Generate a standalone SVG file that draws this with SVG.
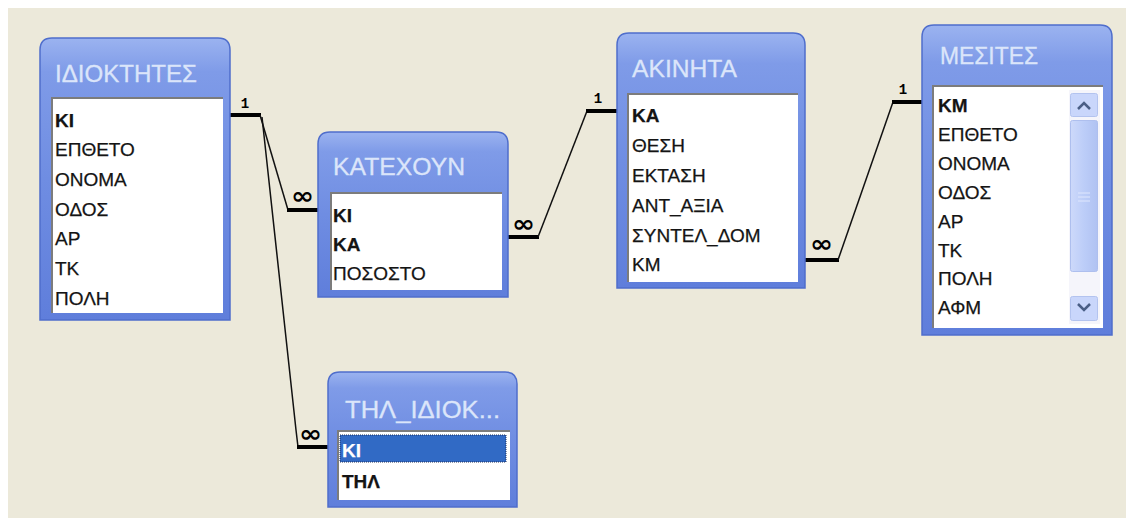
<svg xmlns="http://www.w3.org/2000/svg" width="1133" height="526" viewBox="0 0 1133 526">
  <defs>
    <linearGradient id="hdr" x1="0" y1="0" x2="0" y2="1">
      <stop offset="0" stop-color="#9bb3f0"/>
      <stop offset="0.12" stop-color="#7f9be8"/>
      <stop offset="0.5" stop-color="#6f8de2"/>
      <stop offset="1" stop-color="#5f7edb"/>
    </linearGradient>
    <linearGradient id="thumb" x1="0" y1="0" x2="1" y2="0">
      <stop offset="0" stop-color="#cdd9fa"/>
      <stop offset="0.5" stop-color="#bccdf8"/>
      <stop offset="1" stop-color="#b0c2f2"/>
    </linearGradient>
    <style>
      .frame { fill: url(#hdr); stroke: #4f6ecc; stroke-width: 1.5; }
      .well { fill: #ffffff; }
      .inset { fill: none; stroke: #7c7c7c; stroke-width: 2; }
      .title { font-family: "Liberation Sans", Arial, sans-serif; font-size: 24px; fill: #dbe5fa; stroke: #dbe5fa; stroke-width: 0.3; }
      .fld { font-family: "Liberation Sans", Arial, sans-serif; font-size: 19px; fill: #141414; stroke: #141414; stroke-width: 0.25; }
      .key { font-weight: bold; }
      .sel { fill: #ffffff; stroke: #ffffff; }
      .stub { stroke: #000; stroke-width: 4; fill: none; }
      .rel { stroke: #111; stroke-width: 1.5; fill: none; }
      .one { font-family: "Liberation Mono", "Courier New", monospace; font-size: 14px; font-weight: bold; fill: #000; text-anchor: middle; }
      .many { font-family: "DejaVu Sans", sans-serif; font-size: 24px; font-weight: bold; fill: #000; }
      .sbtn { fill: #c9d6fb; stroke: #b3c3ef; stroke-width: 1; }
      .chev { fill: none; stroke: #4a5e86; stroke-width: 2.5; }
    </style>
  </defs>

  <!-- window canvas -->
  <rect x="0" y="0" width="1133" height="526" fill="#ffffff"/>
  <rect x="8" y="8" width="1118" height="510" fill="#ece9da"/>

  <!-- relationship lines -->
  <g id="connectors">
    <!-- ΙΔΙΟΚΤΗΤΕΣ.ΚΙ 1 — ∞ ΚΑΤΕΧΟΥΝ.ΚΙ -->
    <line class="stub" x1="230" y1="115" x2="261" y2="115"/>
    <polyline class="rel" points="260,115 288,210"/>
    <line class="stub" x1="287" y1="210" x2="318" y2="210"/>
    <text class="one" x="245" y="108">1</text>
    <text class="many" x="291" y="204" textLength="23" lengthAdjust="spacingAndGlyphs">∞</text>

    <!-- ΙΔΙΟΚΤΗΤΕΣ.ΚΙ 1 — ∞ ΤΗΛ_ΙΔΙΟΚ.ΚΙ -->
    <polyline class="rel" points="262,117 296,430 298,447"/>
    <line class="stub" x1="297" y1="447" x2="328" y2="447"/>
    <text class="many" x="299" y="442" textLength="23" lengthAdjust="spacingAndGlyphs">∞</text>

    <!-- ΑΚΙΝΗΤΑ.ΚΑ 1 — ∞ ΚΑΤΕΧΟΥΝ.ΚΑ -->
    <line class="stub" x1="508" y1="237" x2="539" y2="237"/>
    <polyline class="rel" points="538,237 587,111"/>
    <line class="stub" x1="586" y1="111" x2="617" y2="111"/>
    <text class="one" x="598" y="103">1</text>
    <text class="many" x="512" y="232" textLength="23" lengthAdjust="spacingAndGlyphs">∞</text>

    <!-- ΜΕΣΙΤΕΣ.ΚΜ 1 — ∞ ΑΚΙΝΗΤΑ.ΚΜ -->
    <line class="stub" x1="805" y1="260" x2="839" y2="260"/>
    <polyline class="rel" points="838,260 893,102"/>
    <line class="stub" x1="892" y1="102" x2="922" y2="102"/>
    <text class="one" x="903" y="94">1</text>
    <text class="many" x="810" y="252" textLength="23" lengthAdjust="spacingAndGlyphs">∞</text>
  </g>

  <!-- table ΙΔΙΟΚΤΗΤΕΣ -->
  <g id="t-idioktites">
    <path class="frame" d="M40,320 V50 Q40,38 52,38 H218 Q230,38 230,50 V320 Z"/>
    <rect class="well" x="51" y="97" width="172" height="216"/>
    <polyline class="inset" points="52,313 52,98 223,98"/>
    <text class="title" x="55" y="82" textLength="142" lengthAdjust="spacingAndGlyphs">ΙΔΙΟΚΤΗΤΕΣ</text>
    <text class="fld key" x="55" y="127">ΚΙ</text>
    <text class="fld" x="55" y="156">ΕΠΘΕΤΟ</text>
    <text class="fld" x="55" y="186">ΟΝΟΜΑ</text>
    <text class="fld" x="55" y="216">ΟΔΟΣ</text>
    <text class="fld" x="55" y="245">ΑΡ</text>
    <text class="fld" x="55" y="275">ΤΚ</text>
    <text class="fld" x="55" y="305">ΠΟΛΗ</text>
  </g>

  <!-- table ΚΑΤΕΧΟΥΝ -->
  <g id="t-katexoun">
    <path class="frame" d="M318,297 V144 Q318,132 330,132 H496 Q508,132 508,144 V297 Z"/>
    <rect class="well" x="330" y="192" width="172" height="98"/>
    <polyline class="inset" points="331,290 331,193 502,193"/>
    <text class="title" x="333" y="175" textLength="132" lengthAdjust="spacingAndGlyphs">ΚΑΤΕΧΟΥΝ</text>
    <text class="fld key" x="333" y="222">ΚΙ</text>
    <text class="fld key" x="333" y="251">ΚΑ</text>
    <text class="fld" x="333" y="280">ΠΟΣΟΣΤΟ</text>
  </g>

  <!-- table ΑΚΙΝΗΤΑ -->
  <g id="t-akinita">
    <path class="frame" d="M617,288 V45 Q617,33 629,33 H793 Q805,33 805,45 V288 Z"/>
    <rect class="well" x="627" y="93" width="171" height="189"/>
    <polyline class="inset" points="628,282 628,94 798,94"/>
    <text class="title" x="632" y="77" textLength="105" lengthAdjust="spacingAndGlyphs">ΑΚΙΝΗΤΑ</text>
    <text class="fld key" x="632" y="122">ΚΑ</text>
    <text class="fld" x="632" y="152">ΘΕΣΗ</text>
    <text class="fld" x="632" y="182">ΕΚΤΑΣΗ</text>
    <text class="fld" x="632" y="212">ΑΝΤ_ΑΞΙΑ</text>
    <text class="fld" x="632" y="242">ΣΥΝΤΕΛ_ΔΟΜ</text>
    <text class="fld" x="632" y="271">ΚΜ</text>
  </g>

  <!-- table ΜΕΣΙΤΕΣ (with vertical scrollbar) -->
  <g id="t-mesites">
    <path class="frame" d="M922,335 V37 Q922,25 934,25 H1100 Q1112,25 1112,37 V335 Z"/>
    <rect class="well" x="932" y="85" width="171" height="243"/>
    <polyline class="inset" points="933,328 933,86 1103,86"/>
    <text class="title" x="940" y="64" textLength="98" lengthAdjust="spacingAndGlyphs">ΜΕΣΙΤΕΣ</text>
    <text class="fld key" x="938" y="112">ΚΜ</text>
    <text class="fld" x="938" y="141">ΕΠΘΕΤΟ</text>
    <text class="fld" x="938" y="170">ΟΝΟΜΑ</text>
    <text class="fld" x="938" y="199">ΟΔΟΣ</text>
    <text class="fld" x="938" y="228">ΑΡ</text>
    <text class="fld" x="938" y="257">ΤΚ</text>
    <text class="fld" x="938" y="285">ΠΟΛΗ</text>
    <text class="fld" x="938" y="314">ΑΦΜ</text>
    <!-- scrollbar -->
    <rect x="1069" y="90" width="31" height="234" fill="#f5f5fb"/>
    <rect class="sbtn" x="1070.5" y="93.5" width="27" height="23" rx="2"/>
    <polyline class="chev" points="1078,109 1084,103 1090,109"/>
    <rect x="1070.5" y="120.5" width="27" height="151" rx="2" fill="url(#thumb)" stroke="#aebfee" stroke-width="1"/>
    <line x1="1078" y1="193" x2="1090" y2="193" stroke="#dfe7fd" stroke-width="1"/>
    <line x1="1078" y1="197" x2="1090" y2="197" stroke="#dfe7fd" stroke-width="1"/>
    <line x1="1078" y1="201" x2="1090" y2="201" stroke="#dfe7fd" stroke-width="1"/>
    <rect class="sbtn" x="1070.5" y="296.5" width="27" height="24" rx="2"/>
    <polyline class="chev" points="1078,304 1084,310 1090,304"/>
  </g>

  <!-- table ΤΗΛ_ΙΔΙΟΚ... (ΚΙ row selected) -->
  <g id="t-til-idiok">
    <path class="frame" d="M328,507 V384 Q328,372 340,372 H505 Q517,372 517,384 V507 Z"/>
    <rect class="well" x="337" y="430" width="173" height="70"/>
    <polyline class="inset" points="338,500 338,431 510,431"/>
    <rect x="340" y="435" width="166" height="27" fill="#316ac5" stroke="#1c2f5a" stroke-width="1" stroke-dasharray="1 1"/>
    <text class="title" x="345" y="418" textLength="155" lengthAdjust="spacingAndGlyphs">ΤΗΛ_ΙΔΙΟΚ...</text>
    <text class="fld key sel" x="342" y="457">ΚΙ</text>
    <text class="fld key" x="342" y="488">ΤΗΛ</text>
  </g>
</svg>
